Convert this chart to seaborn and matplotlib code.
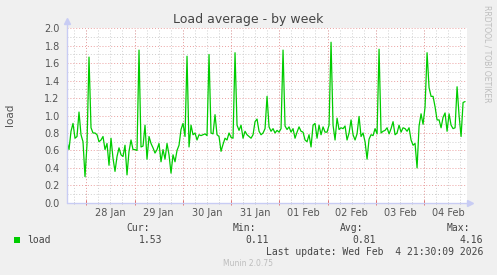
import numpy as np
import pandas as pd
import matplotlib
matplotlib.use("Agg")
import matplotlib.pyplot as plt
import seaborn as sns
from matplotlib.ticker import MultipleLocator, FixedLocator, FormatStrFormatter
from matplotlib.patches import Rectangle

# ---------------- data ----------------
# hourly load samples, Jan 27 ~14:24 -> Feb 4 ~21:30
load = [
    0.70, 0.61, 0.82, 0.91, 0.74, 0.76, 1.04, 0.78, 0.70, 0.30, 0.67, 1.67, 0.86, 0.80, 0.80, 0.78, 0.70,
    0.72, 0.76, 0.61, 0.68, 0.43, 0.74, 0.51, 0.36, 0.53, 0.63, 0.55, 0.53, 0.66, 0.32, 0.59, 0.72, 0.61,
    0.61, 0.60, 1.75, 0.64, 0.65, 0.89, 0.50, 0.76, 0.68, 0.63, 0.57, 0.61, 0.68, 0.47, 0.61, 0.50, 0.68,
    0.55, 0.34, 0.55, 0.47, 0.60, 0.66, 0.84, 0.91, 0.76, 1.68, 0.64, 0.89, 0.78, 0.80, 0.72, 0.78, 0.77,
    0.78, 0.79, 0.77, 1.70, 0.80, 0.79, 1.01, 0.78, 0.76, 0.59, 0.67, 0.74, 0.72, 0.80, 0.75, 0.74, 1.72,
    0.89, 0.83, 0.89, 0.74, 0.82, 0.78, 0.76, 0.74, 0.78, 0.93, 0.96, 0.82, 0.78, 0.80, 0.85, 1.22, 0.87,
    0.82, 0.85, 0.80, 0.83, 0.81, 0.85, 1.75, 0.88, 0.84, 0.87, 0.81, 0.85, 0.74, 0.81, 0.87, 0.82, 0.81,
    0.72, 0.70, 0.78, 0.64, 0.89, 0.91, 0.74, 0.89, 0.78, 0.87, 0.81, 0.81, 0.89, 1.84, 0.89, 0.72, 0.97,
    0.84, 0.86, 0.85, 0.88, 0.72, 0.80, 0.95, 0.78, 0.72, 0.79, 0.99, 0.76, 0.80, 0.70, 0.50, 0.73, 0.78,
    0.77, 0.85, 0.79, 1.76, 0.80, 0.82, 0.83, 0.86, 0.79, 0.85, 0.93, 0.78, 0.80, 0.89, 0.81, 0.86, 0.85,
    0.82, 0.86, 0.72, 0.66, 0.68, 0.40, 0.88, 1.02, 0.90, 1.10, 1.72, 1.32, 1.22, 1.22, 1.10, 0.95, 0.95,
    0.86, 0.98, 1.03, 0.82, 1.02, 0.89, 0.85, 0.86, 1.33, 1.00, 0.76, 1.15, 1.16,
]
start_hour = 14.4          # hours after Jan 27 00:00
step_hours = 0.995
day_labels = ["28 Jan", "29 Jan", "30 Jan", "31 Jan", "01 Feb", "02 Feb", "03 Feb", "04 Feb"]
legend_name = "load"
stat_names = ["Cur:", "Min:", "Avg:", "Max:"]
stat_values = ["1.53", "0.11", "0.81", "4.16"]
last_update = "Last update: Wed Feb  4 21:30:09 2026"

hours = start_hour + step_hours * np.arange(len(load))
df = pd.DataFrame({"hour": hours, "load": load})

# ---------------- style ----------------
sns.set_theme(style="white")
plt.rcParams["font.family"] = ["DejaVu Sans"]

W, H = 497, 275
fig = plt.figure(figsize=(W / 100, H / 100), dpi=100, facecolor="#F0F0F0")
x0, x1 = 66.7, 467.0
y_top, y_bot = 28.3, 202.8
ax = fig.add_axes([x0 / W, 1 - y_bot / H, (x1 - x0) / W, (y_bot - y_top) / H])
ax.set_facecolor("white")

sns.lineplot(data=df, x="hour", y="load", ax=ax, color="#00CC00", linewidth=0.9, zorder=3)

ax.set_xlim(14.25, 14.25 + (x1 - x0) / 2.0104)
ax.set_ylim(0, 2.0)
ax.set_xlabel("")
ax.set_ylabel("")

red = "#EBA0A0"
gray = "#CFCFCF"
txt = "#555555"

ax.yaxis.set_major_locator(MultipleLocator(0.2))
ax.yaxis.set_minor_locator(MultipleLocator(0.1))
ax.yaxis.set_major_formatter(FormatStrFormatter("%.1f"))

noons = [36 + 24 * i for i in range(len(day_labels))]
midnights = [24 + 24 * i for i in range(len(day_labels))]
ax.xaxis.set_major_locator(FixedLocator(noons))
ax.set_xticklabels(day_labels)
ax.xaxis.set_minor_locator(MultipleLocator(6))
ax.xaxis.remove_overlapping_locs = False

ax.set_axisbelow(True)
dot = (0, (1, 2))
ax.grid(which="minor", axis="both", color=gray, linestyle=dot, linewidth=0.7)
ax.grid(which="major", axis="x", visible=False)
ax.grid(which="major", axis="y", color=red, linestyle=dot, linewidth=0.7)
for m in midnights:
    ax.axvline(m, color=red, linestyle=dot, linewidth=0.7, zorder=1)

ax.tick_params(axis="x", which="major", length=0, pad=4, labelsize=7, labelcolor=txt)
ax.tick_params(axis="x", which="minor", length=2, width=0.6, color="#BBBBBB", direction="inout", bottom=True)
ax.tick_params(axis="y", which="both", length=0, pad=5, labelsize=7, labelcolor=txt)

# red day ticks on bottom axis
ax.vlines(midnights, -0.015, 0.015, transform=ax.get_xaxis_transform(), color="#E07070",
          linewidth=0.7, clip_on=False, zorder=4)

for s in ax.spines.values():
    s.set_visible(False)

axis_col = "#C8CCF4"
ext_y = 1 + 7.3 / (y_bot - y_top)
ext_x = 1 + 3.0 / (x1 - x0)
ax.plot([0, 0], [0, ext_y], transform=ax.transAxes, color=axis_col, lw=1.0, clip_on=False, zorder=5)
ax.plot([0, ext_x], [0, 0], transform=ax.transAxes, color=axis_col, lw=1.0, clip_on=False, zorder=5)
ax.plot([0], [ext_y], marker="^", markersize=5, color=axis_col, transform=ax.transAxes, clip_on=False, zorder=5)
ax.plot([ext_x], [0], marker=">", markersize=5, color=axis_col, transform=ax.transAxes, clip_on=False, zorder=5)

# ---------------- texts ----------------
def fx(px):
    return px / W

def fy(py):
    return 1 - py / H

fig.text(fx(248), fy(19.3), "Load average - by week", ha="center", va="center", fontsize=9, color="#444444")
fig.text(fx(10), fy(115), "load", rotation=90, ha="center", va="center", fontsize=7.5, color=txt)
fig.text(fx(487), fy(5), "RRDTOOL / TOBI OETIKER", rotation=270, ha="center", va="top",
         fontsize=5.5, color="#BDBDBD")

mono = "DejaVu Sans Mono"
fig.patches.append(Rectangle((fx(14), fy(243)), 6 / W, 6 / H, transform=fig.transFigure,
                             facecolor="#00CC00", edgecolor="none"))
fig.text(fx(27), fy(240), legend_name, ha="left", va="center", fontsize=7, family=mono, color="#444444")

name_right = [150, 256, 363, 470]
val_right = [162, 269, 376, 483]
for n, nr, v, vr in zip(stat_names, name_right, stat_values, val_right):
    fig.text(fx(nr), fy(228), n, ha="right", va="center", fontsize=7, family=mono, color="#444444")
    fig.text(fx(vr), fy(240), v, ha="right", va="center", fontsize=7, family=mono, color="#444444")
fig.text(fx(483), fy(252), last_update, ha="right", va="center", fontsize=7, family=mono, color="#444444")
fig.text(fx(248), fy(264), "Munin 2.0.75", ha="center", va="center", fontsize=5.5, color="#BDBDBD")

fig.savefig("out.png", dpi=100, facecolor=fig.get_facecolor())
